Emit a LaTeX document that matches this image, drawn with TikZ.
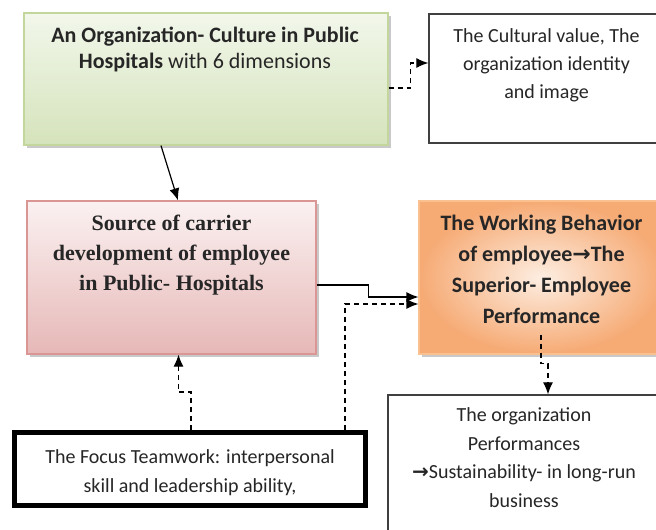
\documentclass[tikz,border=0pt]{standalone}
\usepackage{fontspec}
\setmainfont{Carlito}
\newfontfamily\serifbold{Liberation Serif}
\newfontfamily\arrowfont{DejaVu Sans}
\usetikzlibrary{shadows,arrows.meta}

\definecolor{cultGreenTop}{HTML}{F2F7EB}
\definecolor{cultGreenBot}{HTML}{D5E3BB}
\definecolor{cultGreenLine}{HTML}{C3D69B}
\definecolor{srcPinkTop}{HTML}{FBF1F1}
\definecolor{srcPinkBot}{HTML}{E6B8B7}
\definecolor{srcPinkLine}{HTML}{D99694}
\definecolor{workOrangeIn}{HTML}{FDEEE2}
\definecolor{workOrangeOut}{HTML}{F6AA74}
\definecolor{workOrangeLine}{HTML}{FAC090}
\definecolor{plainLine}{HTML}{404040}
\newcommand{\rarr}{{\arrowfont\bfseries\symbol{"2192}}}

\tikzstyle{ShadowBox}=[rectangle, draw, line width=1.2pt, drop shadow={shadow xshift=2.5pt, shadow yshift=-2.5pt, opacity=0.3, fill=black!70}]
\tikzstyle{CultureNode}=[ShadowBox, draw=cultGreenLine, top color=cultGreenTop, bottom color=cultGreenBot, minimum width=364pt, minimum height=132pt]
\tikzstyle{SourceNode}=[ShadowBox, draw=srcPinkLine, top color=srcPinkTop, bottom color=srcPinkBot, minimum width=289pt, minimum height=153pt]
\tikzstyle{WorkNode}=[ShadowBox, draw=workOrangeLine, inner color=workOrangeIn, outer color=workOrangeOut, minimum width=245pt, minimum height=153pt]
\tikzstyle{PlainNode}=[rectangle, draw=plainLine, line width=1.3pt, fill=white]
\tikzstyle{TeamNode}=[rectangle, draw=black, line width=5pt, fill=white, minimum width=351pt, minimum height=73pt]
\tikzstyle{BoxText}=[align=center, inner sep=0pt, anchor=base, text=black!85]
\tikzstyle{SolidEdge}=[-{Latex[length=12pt,width=10pt]}, line width=1.2pt]
\tikzstyle{DashEdge}=[SolidEdge, dash pattern=on 5pt off 4pt]

\begin{document}
\begin{tikzpicture}[x=1pt,y=-1pt]
\useasboundingbox (0,0) rectangle (656,530);
\clip (0,0) rectangle (656,530);

\node[CultureNode](culture) at (206,79) {};
\node[PlainNode, minimum width=235pt, minimum height=129pt](value) at (546.5,78.5) {};
\node[SourceNode](source) at (171.5,277.5) {};
\node[WorkNode](work) at (541.5,277.5) {};
\node[TeamNode](team) at (190,469) {};
\node[PlainNode, minimum width=272pt, minimum height=170pt](perf) at (524,480) {};

% text nodes sit on the baseline of their last line
\node[BoxText, font=\bfseries\fontsize{22}{26}\selectfont](cultureText) at (205,68)
  {An Organization- Culture in Public\\Hospitals {\mdseries with 6 dimensions}};
\node[BoxText, font=\fontsize{20}{28}\selectfont](valueText) at (546.5,98)
  {The Cultural value, The\\organization identity\\and image};
\node[BoxText, font=\serifbold\bfseries\fontsize{22}{30}\selectfont](sourceText) at (171.5,290)
  {Source of carrier\\development of employee\\in Public- Hospitals};
\node[BoxText, font=\bfseries\fontsize{22}{31}\selectfont](workText) at (541.5,323)
  {The Working Behavior\\of employee\rarr The\\Superior- Employee\\Performance};
\node[BoxText, font=\fontsize{20}{29}\selectfont](teamText) at (190,492)
  {The Focus Teamwork: interpersonal\\skill and leadership ability,};
\node[BoxText, font=\fontsize{20}{28.5}\selectfont](perfText) at (524,507)
  {The organization\\Performances\\\rarr Sustainability- in long-run\\business};

\draw[DashEdge]([yshift=-9pt]culture.east) -- ++(22,0) |- ([yshift=15.5pt]value.west);
\draw[SolidEdge]([xshift=-45pt]culture.south) -- ([xshift=6.5pt]source.north);
\draw[SolidEdge]([yshift=-7.5pt]source.east) -- ++(52,0) |- ([yshift=-19.5pt]work.west);
\draw[DashEdge]([xshift=155pt]team.north) |- ([yshift=-26.5pt]work.west);
\draw[DashEdge]([xshift=1pt]team.north) -- ++(0,-38) -| ([xshift=7pt]source.south);
\draw[DashEdge]([xshift=-0.5pt,yshift=20pt]work.south) -- ++(0,29) -| ([xshift=24pt]perf.north);
\end{tikzpicture}
\end{document}
